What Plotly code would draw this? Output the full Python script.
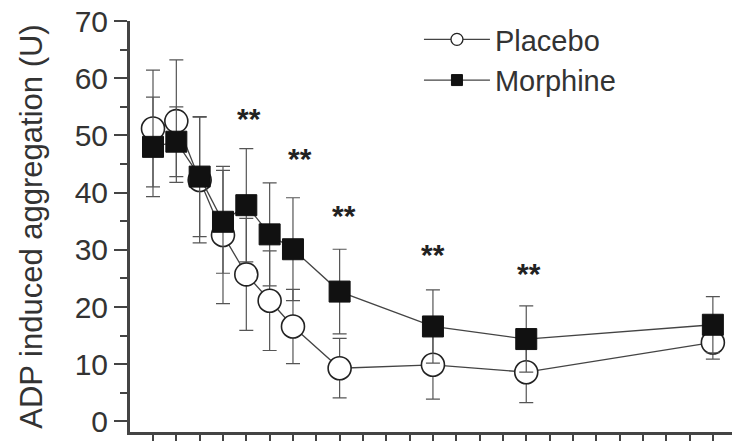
import plotly.graph_objects as go

# Time points (x units)
times = [0, 1, 2, 3, 4, 5, 6, 8, 12, 16, 24]

placebo_mean = [51.2, 52.5, 42.2, 32.6, 25.7, 21.1, 16.6, 9.3, 9.9, 8.6, 13.8]
placebo_err = [10.2, 10.7, 11.0, 12.0, 9.8, 8.7, 6.5, 5.2, 6.0, 5.3, 2.9]

morphine_mean = [48.0, 48.9, 42.8, 34.9, 37.8, 32.7, 30.1, 22.7, 16.6, 14.4, 16.9]
morphine_err = [8.7, 6.1, 10.5, 9.0, 9.9, 9.0, 9.0, 7.4, 6.4, 5.8, 4.9]

star_x = [4.1, 6.3, 8.2, 12.0, 16.1]
star_y = [53.0, 46.0, 36.0, 29.2, 25.9]
star_text = "<b>**</b>"

y_ticks = [0, 10, 20, 30, 40, 50, 60, 70]

FONT = "Liberation Sans, Arial, sans-serif"
DARK = "#333333"
LINE = dict(color="#444444", width=1.3)

fig = go.Figure()

fig.add_trace(go.Scatter(
    x=times, y=placebo_mean, name="Placebo", mode="lines+markers",
    showlegend=False, line=LINE,
    marker=dict(symbol="circle", size=23, color="white",
                line=dict(color="#222222", width=1.6)),
    error_y=dict(type="data", array=placebo_err, visible=True,
                 color="#555555", thickness=1.2, width=7),
))
fig.add_trace(go.Scatter(
    x=times, y=morphine_mean, name="Morphine", mode="lines+markers",
    showlegend=False, line=LINE,
    marker=dict(symbol="square", size=21, color="#111111",
                line=dict(color="#111111", width=1)),
    error_y=dict(type="data", array=morphine_err, visible=True,
                 color="#555555", thickness=1.2, width=7),
))

# legend entries (smaller symbols, same styling)
fig.add_trace(go.Scatter(
    x=[None], y=[None], name="Placebo", mode="lines+markers", line=LINE,
    marker=dict(symbol="circle", size=12, color="white",
                line=dict(color="#222222", width=1.3)),
))
fig.add_trace(go.Scatter(
    x=[None], y=[None], name="Morphine", mode="lines+markers", line=LINE,
    marker=dict(symbol="square", size=11, color="#111111",
                line=dict(color="#111111", width=1)),
))

for sx, sy in zip(star_x, star_y):
    fig.add_annotation(x=sx, y=sy, text=star_text, showarrow=False,
                       font=dict(family=FONT, size=30, color="#222222"),
                       xanchor="center", yanchor="middle")

fig.update_layout(
    width=732, height=441,
    margin=dict(l=130, r=0, t=21, b=9),
    paper_bgcolor="white", plot_bgcolor="white",
    font=dict(family=FONT, color=DARK),
    showlegend=True,
    legend=dict(x=0.48, y=1.017, xanchor="left", yanchor="top",
                bgcolor="rgba(0,0,0,0)", font=dict(size=29, color=DARK),
                itemwidth=66, tracegroupgap=0),
)

fig.update_xaxes(
    range=[-0.986, 24.82], showgrid=False, zeroline=False,
    showline=True, linecolor="#444444", linewidth=3,
    ticks="outside", tickmode="linear", tick0=0, dtick=1,
    ticklen=8, tickwidth=2, tickcolor="#444444", showticklabels=False,
)
fig.update_yaxes(
    range=[-1.85, 70], showgrid=False, zeroline=False,
    showline=True, linecolor="#444444", linewidth=3,
    ticks="outside", tickvals=y_ticks, ticklen=13, tickwidth=2,
    tickcolor="#444444",
    tickfont=dict(size=30, color=DARK),
    minor=dict(dtick=5, tick0=0, ticks="outside", ticklen=7, tickwidth=2,
               tickcolor="#444444"),
    title=dict(text="ADP induced aggregation (U)",
               font=dict(size=31, color=DARK), standoff=23),
)

fig.write_html("out.html")
